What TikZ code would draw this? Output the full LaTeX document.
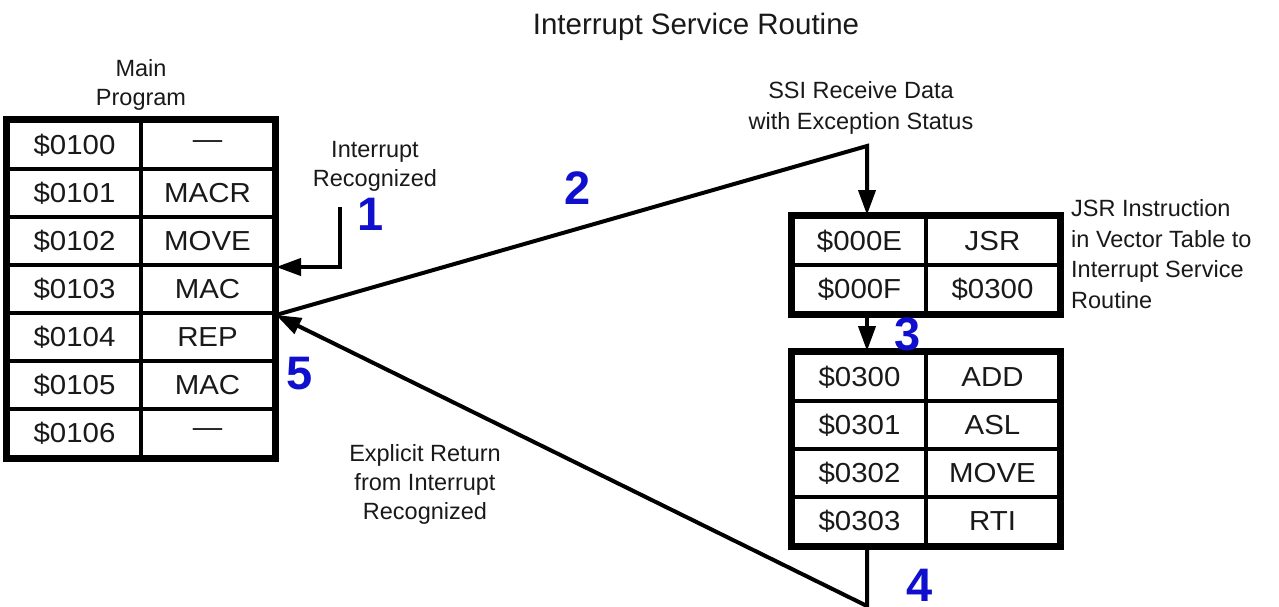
\documentclass[tikz,border=0pt]{standalone}
\usepackage{fontspec}
\setmainfont{Liberation Sans}
\usetikzlibrary{arrows.meta}
\definecolor{numblue}{RGB}{15,15,205}
\definecolor{txt}{RGB}{25,25,25}
\begin{document}
\begin{tikzpicture}[x=1pt,y=-1pt,
  cell/.style={draw, line width=4pt, minimum width=133pt, minimum height=48pt, inner sep=0pt, text=txt, font=\fontsize{27.5}{33}\selectfont\addfontfeature{FakeStretch=1.07}},
  frame/.style={line width=6pt},
  conn/.style={line width=4pt, line join=miter},
  tip/.style={-{Triangle[length=25pt,width=17pt]}},
  lbl/.style={align=center, inner sep=0pt, text=txt, font=\fontsize{23.5}{29}\selectfont},
  num/.style={inner sep=0pt, text=numblue, font=\fontsize{47}{50}\selectfont\bfseries}]
\useasboundingbox (0,0) rectangle (1279,606);

% Title
\node[inner sep=0pt, text=txt, font=\fontsize{29.5}{34}\selectfont] (title) at (696,27) {Interrupt Service Routine};

% Main program table
\node[lbl] (mainlbl) at (141,85) {Main\\Program};
\foreach \i/\a/\b in {1/\$0100/—, 2/\$0101/MACR, 3/\$0102/MOVE, 4/\$0103/MAC, 5/\$0104/REP, 6/\$0105/MAC, 7/\$0106/—}{
  \node[cell] (ma\i) at (74.5,{97+48*\i}) {\a};
  \node[cell] (mb\i) at (207.5,{97+48*\i}) {\b};
}
\draw[frame] (ma1.north west) rectangle (mb7.south east);

% Vector table
\foreach \i/\a/\b in {1/\$000E/JSR, 2/\$000F/\$0300}{
  \node[cell] (va\i) at (859.5,{193+48*\i}) {\a};
  \node[cell] (vb\i) at (992.5,{193+48*\i}) {\b};
}
\draw[frame] (va1.north west) rectangle (vb2.south east);

% ISR table
\foreach \i/\a/\b in {1/\$0300/ADD, 2/\$0301/ASL, 3/\$0302/MOVE, 4/\$0303/RTI}{
  \node[cell] (ia\i) at (859.5,{329+48*\i}) {\a};
  \node[cell] (ib\i) at (992.5,{329+48*\i}) {\b};
}
\draw[frame] (ia1.north west) rectangle (ib4.south east);

% Labels
\node[lbl] (intlbl) at (375,166) {Interrupt\\Recognized};
\node[lbl, font=\fontsize{23.5}{30.5}\selectfont] (ssilbl) at (861,108) {SSI Receive Data\\with Exception Status};
\node[lbl, align=left, anchor=west, font=\fontsize{23.5}{30.5}\selectfont] (jsrlbl) at (1071,254) {JSR Instruction\\in Vector Table to\\Interrupt Service\\Routine};
\node[lbl] (retlbl) at (425,484) {Explicit Return\\from Interrupt\\Recognized};

% Step numbers
\node[num] (n1) at (371,214) {1};
\node[num] (n2) at (578,188) {2};
\node[num] (n3) at (908,334) {3};
\node[num] (n4) at (920,585) {4};
\node[num] (n5) at (300,374) {5};

% Connectors
\coordinate (c1) at (340,207);
\coordinate (v2) at (867,146);
\coordinate (v4) at (867,606);
\draw[conn,tip] (c1) |- (mb3.south east);
\draw[conn,tip] (mb4.south east) -- (v2) -- (v2 |- va1.north);
\draw[conn,tip] (v2 |- va2.south) -- (v2 |- ia1.north);
\draw[conn,tip] (v2 |- ia4.south) -- (v4) -- (mb4.south east);
\end{tikzpicture}
\end{document}
